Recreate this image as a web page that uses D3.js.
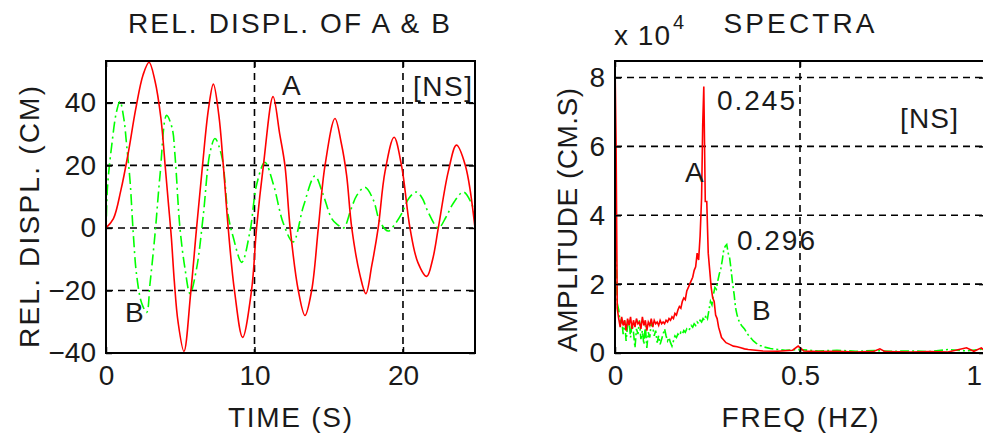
<!DOCTYPE html>
<html><head><meta charset="utf-8">
<script src="https://cdn.jsdelivr.net/npm/d3@7/dist/d3.min.js"></script>
<style>
html,body{margin:0;padding:0;background:#fff;overflow:hidden}
text{font-family:"Liberation Sans",Arial,sans-serif;fill:#1a1a1a}
</style></head>
<body><svg id="c" width="983" height="437"></svg>
<script>
// ---- Data: relative displacement time histories ----
const timeA = [0,0.5,1.0,1.5,2.0,2.5,2.9,3.3,3.7,4.0,4.2,4.4,4.6,4.85,5.25,5.7,6.1,6.5,6.9,7.23,7.6,7.9,8.23,8.65,9.2,9.8,10.14,10.6,11.25,11.7,12.05,12.4,12.95,13.4,13.85,14.3,14.75,15.42,15.85,16.2,16.55,17.1,17.5,17.9,18.33,18.79,19.4,19.9,20.47,21.0,21.6,22.0,22.38,23.05,23.6,24.2,24.85];
const dispA = [0,3,12,24,38,49,53,47,35,19,8,-3,-17,-30,-39.5,-21,0,20,38,46,36,20,0,-20,-35,-20,0,20,42,30,20,0,-20,-28,-20,0,20,35,27,17,0,-15,-21,-12,0,18,29,20,0,-11,-15.5,-10,0,18,26.5,20,0];
const timeB = [0,0.1,0.4,0.7,0.94,1.2,1.4,1.62,1.84,2.06,2.4,2.74,2.96,3.3,3.64,4.08,4.45,4.65,4.98,5.32,5.66,6.1,6.55,7.0,7.34,7.79,8.23,8.57,9.14,9.7,10.15,10.7,11.27,11.94,12.6,13.3,14.07,14.6,15.2,15.6,16.0,16.5,16.9,17.44,18.0,18.45,19.0,19.5,19.9,20.4,20.9,21.3,21.7,22.38,22.9,23.4,24.07,24.6,24.85];
const dispB = [-3,13,27,37,40.5,35,26,15,-2,-15,-24,-27,-18,-2,17,36,32,23,0,-13,-21,-13,4,24,28.6,23,4,-3,-11,-1,14,21,14,1.5,-4.5,7,16.6,11,3,1,0,6,10.5,13,9,2,-1,1.5,4.5,9.5,11.5,9.5,5,0,3.5,8,11.5,8,4];
const timeTicks = [0,10,20];
const dispTicks = [-40,-20,0,20,40];

// ---- Data: Fourier amplitude spectra (x 10^4 CM.S) ----
const freqA = [0,0.003,0.006,0.010,0.014,0.018,0.022,0.026,0.030,0.034,0.038,0.042,0.046,0.050,0.054,0.058,0.062,0.066,0.070,0.074,0.078,0.082,0.086,0.090,0.094,0.098,0.102,0.106,0.110,0.114,0.118,0.122,0.126,0.130,0.134,0.138,0.142,0.146,0.150,0.154,0.158,0.162,0.166,0.170,0.174,0.178,0.182,0.186,0.190,0.194,0.198,0.202,0.206,0.210,0.214,0.218,0.222,0.226,0.230,0.234,0.237,0.240,0.244,0.248,0.252,0.256,0.260,0.264,0.268,0.272,0.276,0.280,0.284,0.288,0.292,0.296,0.300,0.310,0.320,0.330,0.340,0.350,0.360,0.380,0.400,0.440,0.480,0.495,0.510,0.550,0.600,0.650,0.700,0.716,0.730,0.800,0.850,0.900,0.950,0.970,0.990,1.000];
const ampA  = [8.48,6.0,1.3,1.0,0.75,1.05,0.8,0.95,0.65,1.0,0.8,1.05,0.7,0.95,0.75,1.0,0.85,0.9,0.7,1.05,0.8,0.95,0.65,0.9,0.8,1.0,0.75,0.95,0.85,0.9,0.8,0.95,0.85,0.9,0.85,0.95,0.9,1.0,0.95,1.05,1.0,1.15,1.1,1.25,1.35,1.3,1.5,1.6,1.55,1.8,1.9,2.0,2.1,2.2,2.4,2.5,2.9,2.7,3.4,4.5,6.6,7.74,4.4,4.4,2.9,2.4,1.9,1.6,1.5,1.1,1.0,0.75,0.6,0.45,0.4,0.35,0.3,0.25,0.2,0.18,0.15,0.12,0.1,0.08,0.06,0.05,0.08,0.2,0.06,0.04,0.05,0.03,0.05,0.12,0.04,0.03,0.04,0.03,0.15,0.05,0.15,0.05];
const freqB = [0,0.003,0.006,0.010,0.014,0.018,0.022,0.026,0.030,0.034,0.038,0.042,0.046,0.050,0.054,0.058,0.062,0.066,0.070,0.074,0.078,0.082,0.086,0.090,0.094,0.098,0.102,0.106,0.110,0.114,0.118,0.122,0.126,0.130,0.134,0.138,0.142,0.146,0.150,0.154,0.158,0.162,0.166,0.170,0.174,0.178,0.182,0.186,0.190,0.194,0.198,0.202,0.206,0.210,0.214,0.218,0.222,0.226,0.230,0.234,0.238,0.242,0.246,0.250,0.254,0.258,0.262,0.266,0.270,0.274,0.278,0.282,0.286,0.290,0.294,0.298,0.302,0.306,0.310,0.314,0.318,0.322,0.326,0.330,0.336,0.342,0.350,0.358,0.366,0.374,0.382,0.392,0.404,0.420,0.440,0.460,0.500,0.550,0.600,0.650,0.700,0.750,0.800,0.850,0.900,0.950,1.000];
const ampB  = [4.4,2.9,1.45,1.25,0.85,1.0,0.55,0.95,0.35,0.8,0.95,0.45,0.85,0.6,0.15,0.7,0.55,0.95,0.4,0.65,0.25,0.8,0.15,0.6,0.45,0.9,0.75,0.5,0.65,0.3,0.5,0.25,0.4,0.55,0.7,0.5,0.35,0.45,0.3,0.2,0.35,0.5,0.45,0.55,0.5,0.6,0.55,0.65,0.6,0.7,0.65,0.7,0.8,0.75,0.85,0.8,0.9,0.85,0.95,0.9,1.0,0.95,1.1,1.0,1.25,1.5,1.4,1.7,1.9,1.85,2.1,2.3,2.45,2.7,3.0,3.1,3.15,2.9,2.75,2.4,2.0,1.7,1.3,1.1,0.9,0.8,0.7,0.55,0.45,0.35,0.28,0.22,0.17,0.13,0.1,0.08,0.1,0.06,0.08,0.05,0.07,0.05,0.06,0.04,0.1,0.06,0.12];
const freqTicks = [0,0.5,1];
const freqTickLabels = ["0","0.5","1"];
const ampTicks = [0,2,4,6,8];

const RED = "#ff0000", GREEN = "#00ff00";
const svg = d3.select("#c");

function panel(o){
  const g = svg.append("g");
  const x = d3.scaleLinear().domain(o.xd).range([o.x0, o.x1]);
  const y = d3.scaleLinear().domain(o.yd).range([o.y1, o.y0]);
  const id = "clip"+o.name;
  svg.append("clipPath").attr("id", id).append("rect")
    .attr("x", o.x0).attr("y", o.y0).attr("width", o.x1-o.x0).attr("height", o.y1-o.y0);
  // grid
  const grid = g.append("g").attr("stroke","#000").attr("stroke-width",1.6).attr("stroke-dasharray","7,5");
  o.xt.filter(v => v > o.xd[0] && v < o.xd[1]).forEach(v => {
    grid.append("line").attr("x1", x(v)).attr("x2", x(v)).attr("y1", o.y0).attr("y2", o.y1);
  });
  o.yt.filter(v => v > o.yd[0] && v < o.yd[1]).forEach(v => {
    grid.append("line").attr("y1", y(v)).attr("y2", y(v)).attr("x1", o.x0).attr("x2", o.x1);
  });
  // series
  const lines = g.append("g").attr("clip-path", `url(#${id})`);
  o.series.forEach(s => {
    const pts = s.xs.map((v,i) => [v, s.ys[i]]);
    lines.append("path").datum(pts)
      .attr("fill","none").attr("stroke", s.color).attr("stroke-width", 1.6)
      .attr("stroke-dasharray", s.dash || null)
      .attr("d", d3.line().x(d => x(d[0])).y(d => y(d[1])).curve(s.curve || d3.curveLinear));
  });
  // axes
  const fmt = o.xl ? ((d,i) => o.xl[i]) : d3.format("d");
  const ax = g.append("g").attr("transform", `translate(0,${o.y1})`)
    .call(d3.axisBottom(x).tickValues(o.xt).tickFormat(fmt).tickSizeInner(-6).tickSizeOuter(0).tickPadding(12));
  const ay = g.append("g").attr("transform", `translate(${o.x0},0)`)
    .call(d3.axisLeft(y).tickValues(o.yt).tickFormat(d3.format("d")).tickSizeInner(-6).tickSizeOuter(0).tickPadding(10));
  g.append("g").attr("transform", `translate(0,${o.y0})`)
    .call(d3.axisTop(x).tickValues(o.xt).tickFormat("").tickSizeInner(-6).tickSizeOuter(0));
  g.append("g").attr("transform", `translate(${o.x1},0)`)
    .call(d3.axisRight(y).tickValues(o.yt).tickFormat("").tickSizeInner(-6).tickSizeOuter(0));
  g.selectAll(".domain").remove();
  g.selectAll(".tick line").attr("stroke","#000").attr("stroke-width",1.5);
  g.selectAll(".tick text").attr("font-size",28).attr("fill","#1a1a1a")
    .style("font-family",'"Liberation Sans",Arial,sans-serif');
  // keep a label that sits on the window edge inside the picture
  ax.selectAll(".tick text").each(function(){
    const b = this.getBBox(), m = this.getCTM();
    const right = m.e + b.x + b.width;
    if (right > 982) d3.select(this).attr("dx", 982 - right);
  });
  // box
  g.append("rect").attr("x", o.x0).attr("y", o.y0).attr("width", o.x1-o.x0).attr("height", o.y1-o.y0)
    .attr("fill","none").attr("stroke","#000").attr("stroke-width",2);
  return {x, y};
}

panel({name:"L", x0:106, x1:475, y0:61, y1:353, xd:[0,24.85], yd:[-40,53.4],
  xt: timeTicks, yt: dispTicks,
  series:[
    {xs: timeB, ys: dispB, color: GREEN, dash: "11,4,2,4", curve: d3.curveCatmullRom},
    {xs: timeA, ys: dispA, color: RED, curve: d3.curveCatmullRom}
  ]});

panel({name:"R", x0:615, x1:985, y0:61, y1:353, xd:[0,1], yd:[0,8.48],
  xt: freqTicks, xl: freqTickLabels, yt: ampTicks,
  series:[
    {xs: freqB, ys: ampB, color: GREEN, dash: "9,3,2,3"},
    {xs: freqA, ys: ampA, color: RED}
  ]});

function txt(s, x, y, opt={}){
  const t = svg.append("text").attr("x", x).attr("y", y).text(s)
    .attr("font-size", opt.size || 28).attr("text-anchor", opt.anchor || "start");
  if (opt.len) t.attr("textLength", opt.len).attr("lengthAdjust","spacing");
  if (opt.rot) t.attr("transform", `rotate(-90,${x},${y})`);
  return t;
}
// titles
txt("REL. DISPL. OF A & B", 289, 33, {anchor:"middle", len:322});
txt("SPECTRA", 799, 33, {anchor:"middle", len:151});
txt("x 10", 614, 45, {len:56});
txt("4", 673, 29, {size:20});
// axis labels
txt("TIME (S)", 290, 427, {anchor:"middle", len:124});
txt("FREQ (HZ)", 800, 427, {anchor:"middle", len:157});
txt("REL. DISPL. (CM)", 39, 217, {anchor:"middle", rot:true, len:262});
txt("AMPLITUDE (CM.S)", 577, 220, {anchor:"middle", rot:true, len:264});
// annotations
txt("A", 282, 95);
txt("B", 125, 322);
txt("[NS]", 413, 96, {len:59});
txt("A", 685, 182);
txt("B", 752, 320);
txt("0.245", 717, 110, {len:78});
txt("0.296", 737, 250, {len:78});
txt("[NS]", 900, 128, {len:58});
</script></body></html>
